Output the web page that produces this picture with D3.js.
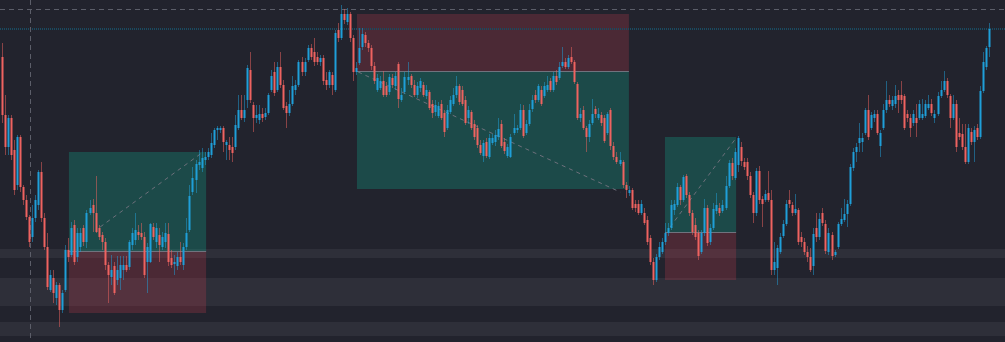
<!DOCTYPE html>
<html>
<head>
<meta charset="utf-8">
<script src="https://cdnjs.cloudflare.com/ajax/libs/d3/7.8.5/d3.min.js"></script>
<style>
  html, body { margin: 0; padding: 0; background: #22232d; overflow: hidden; }
</style>
</head>
<body>
<div id="chart"></div>
<script>
// OHLC, one entry per bar
var open = [
  293,235,203,232,200,165,213,163,150,133, 113,132,145,178,132,103,60,72,52,65,
  40,60,100,95,125,93,103,122,108,137, 145,137,122,115,108,85,73,84,70,72,
  80,85,83,105,110,118,117,113,88,88, 123,108,115,103,108,116,92,86,84,93,
  85,103,120,158,170,185,182,190,193,195, 205,220,220,222,205,205,203,203,222,240,
  232,250,280,245,232,230,236,233,237,260, 278,260,283,265,244,237,246,260,265,288,
  278,290,302,298,293,288,292,270,265,275, 260,320,312,336,328,336,312,278,287,303,
  315,307,302,284,260,262,269,264,258,272, 264,286,250,258,270,274,265,255,262,265,
  254,258,246,238,234,246,237,222,238,246, 255,264,260,250,232,238,226,222,205,194,
  208,193,207,208,213,226,208,194,193,217, 220,222,240,217,226,241,255,250,260,254,
  260,269,260,274,272,284,288,283,293,288, 266,232,240,222,213,227,241,232,235,232,
  217,240,204,193,186,188,165,157,160,146, 146,137,137,130,112,88,70,93,98,108,
  117,122,140,145,163,150,174,155,137,125, 117,98,117,142,108,122,139,142,139,142,
  164,187,172,185,203,188,188,174,155,137, 179,151,150,157,150,80,82,98,114,126,
  150,145,137,140,113,108,98,93,84,122, 113,137,126,98,115,95,103,126,130,136,
  146,182,198,207,208,217,240,222,232,236, 204,222,240,250,244,246,255,255,254,236,
  232,227,232,232,232,234,242,246,232,236, 254,260,269,254,232,246,217,216,203,188,
  218,208,222,213,259,283,303
];
var high = [
  307,255,235,235,210,215,215,165,155,135, 145,155,180,188,137,117,80,80,68,67,
  60,105,112,128,130,122,122,125,140,150, 151,174,125,118,112,88,95,88,94,94,
  94,94,110,122,137,125,127,118,107,127, 127,127,122,118,127,127,100,95,98,108,
  107,132,165,183,190,200,202,198,202,217, 222,224,224,224,210,213,213,235,255,255,
  255,285,298,248,245,245,242,242,257,280, 288,288,298,270,248,260,274,270,290,293,
  292,305,306,312,298,295,295,278,280,278, 320,327,345,341,342,338,315,288,322,322,
  318,310,305,288,276,274,279,268,276,276, 278,288,262,278,288,276,270,268,272,268,
  265,260,250,250,248,250,240,245,254,262, 274,266,264,254,244,240,230,225,210,210,
  212,216,216,220,232,230,212,206,216,236, 225,246,245,230,246,255,260,266,264,268,
  274,272,278,280,288,303,292,295,303,290, 268,242,244,224,230,251,244,242,238,235,
  238,242,208,198,198,190,168,164,162,150, 150,150,142,134,115,92,96,108,112,127,
  127,150,150,167,165,175,176,158,140,132, 120,120,151,145,126,147,157,147,150,174,
  190,192,202,214,208,192,192,178,158,182, 184,154,160,179,160,108,105,117,130,150,
  160,148,156,142,118,112,104,102,122,137, 137,142,130,122,118,100,128,142,151,150,
  186,202,207,227,217,242,255,238,240,240, 220,246,269,255,254,265,260,269,256,240,
  236,240,246,250,251,250,255,251,240,258, 269,279,272,256,255,250,232,226,226,226,
  222,224,226,264,298,304,327
];
var low = [
  227,195,195,190,155,160,158,145,130,103, 108,128,140,128,100,60,58,47,45,23,
  37,58,88,93,85,88,98,104,102,135, 118,117,110,100,80,47,65,55,65,60,
  70,78,80,100,105,110,110,72,57,87, 110,102,88,100,102,84,82,75,80,85,
  80,100,118,155,157,180,178,185,190,192, 202,210,217,198,190,190,188,200,220,230,
  228,242,247,218,227,226,228,230,235,258, 254,258,262,240,222,234,244,255,263,274,
  274,288,290,284,285,284,265,260,262,255, 258,308,310,326,325,308,269,275,285,300,
  303,298,280,266,258,260,253,253,255,262, 260,242,248,256,265,262,253,252,258,253,
  251,240,232,234,232,230,213,220,236,244, 252,245,244,225,226,220,210,202,195,188,
  192,191,205,204,210,202,196,192,192,215, 217,220,212,215,224,238,247,248,244,252,
  258,258,258,265,270,282,281,281,286,266, 230,228,220,198,208,225,232,230,224,207,
  215,200,190,186,184,162,152,154,140,138, 135,135,125,105,85,65,68,90,96,105,
  114,120,135,143,145,148,152,134,115,110, 90,96,114,104,105,120,136,134,137,140,
  162,170,170,178,184,180,170,152,127,134, 146,123,148,148,75,75,65,96,112,124,
  142,134,135,105,103,95,88,78,75,108, 110,124,96,95,90,93,101,124,128,123,
  144,179,188,198,198,215,210,220,228,215, 193,220,237,243,240,242,237,246,220,228,
  213,224,213,230,230,232,240,234,227,234, 252,258,252,222,230,198,210,200,186,186,
  205,188,210,211,257,280,293
];
var close = [
  235,203,232,195,160,213,163,150,133,108, 132,150,178,132,103,63,75,57,65,40,
  57,100,93,122,88,117,117,108,137,142, 137,118,113,108,85,75,80,57,80,85,
  85,80,108,117,120,115,113,75,103,126, 113,122,105,113,117,88,85,88,93,88,
  103,117,154,172,186,188,192,193,198,207, 220,222,222,208,208,200,197,225,240,232,
  240,282,250,232,235,236,232,237,255,274, 257,283,265,242,237,246,264,265,288,278,
  288,302,293,288,288,292,269,265,278,265, 317,312,336,330,336,312,278,282,302,316,
  307,302,284,269,272,269,255,255,273,265, 274,251,255,273,273,265,255,264,269,255,
  260,242,237,245,244,232,218,240,250,255, 264,248,246,227,240,222,213,205,197,207,
  194,212,212,215,221,204,199,203,213,222, 222,240,214,226,240,250,250,264,246,264,
  265,260,274,268,283,288,283,292,288,268, 232,236,222,213,226,236,236,236,227,209,
  236,204,193,188,190,165,160,160,142,142, 137,146,127,108,88,70,93,103,108,117,
  122,145,146,163,150,173,155,137,118,113, 94,117,142,107,122,141,145,137,145,164,
  187,174,198,212,189,183,174,155,137,179, 150,146,156,150,80,88,102,113,126,146,
  146,137,141,108,108,98,93,80,116,113, 131,127,99,117,94,98,126,131,136,146,
  183,198,203,212,212,240,213,235,236,217, 217,240,250,246,250,254,250,250,222,232,
  222,236,227,246,236,246,246,237,236,254, 260,269,255,232,246,203,213,203,188,222,
  208,220,213,259,288,302,321
];

// price zones (top, bottom)
var zones = [[101, 92], [72, 44], [28, 14]];

// position tools: bar range, entry / target / stop prices
var posFrom   = [22.2, 117.3, 219.0];
var posTo     = [67.5, 207.1, 242.5];
var posEntry  = [99, 279, 118];
var posTarget = [198, 161, 213];
var posStop   = [37, 336, 70];

// trade path inside each position: [bar, price] -> [bar, price]
var tradeLines = [
  [[32.5, 123], [66.5, 198]],
  [[117.7, 278], [204.2, 158]],
  [[220.7, 123], [242.5, 212]]
];

var dashedLevel = 341;     // grey dashed horizontal
var dottedLevel = 321;     // last price dotted line
var cursorBar = 9.35;      // grey dashed vertical

var width = 1005, height = 342;
var upColor = "#1f9fd9", downColor = "#ef6360";

var svg = d3.select("#chart").append("svg")
  .attr("width", width)
  .attr("height", height)
  .style("display", "block");

var x = d3.scaleLinear().domain([0, open.length - 1]).range([1.7, 989]);
var y = d3.scaleLinear().domain([8, 350]).range([height, 0]);

svg.append("rect").attr("width", width).attr("height", height).attr("fill", "#22232d");

// zones
svg.selectAll("rect.zone")
  .data(zones)
  .enter()
  .append("rect")
  .attr("class", "zone")
  .attr("x", 0)
  .attr("width", width)
  .attr("y", function (d) { return y(d[0]); })
  .attr("height", function (d) { return y(d[1]) - y(d[0]); })
  .attr("fill", "#2e2f39");

// position boxes
var pos = d3.range(posFrom.length).map(function (i) {
  return {from: posFrom[i], to: posTo[i], entry: posEntry[i], target: posTarget[i], stop: posStop[i]};
});
var boxes = svg.append("g");
pos.forEach(function (p) {
  var x0 = x(p.from), x1 = x(p.to);
  boxes.append("rect")
    .attr("x", x0).attr("width", x1 - x0)
    .attr("y", y(Math.max(p.entry, p.target)))
    .attr("height", Math.abs(y(p.entry) - y(p.target)))
    .attr("fill", "rgba(12,190,160,0.25)");
  boxes.append("rect")
    .attr("x", x0).attr("width", x1 - x0)
    .attr("y", y(Math.max(p.entry, p.stop)))
    .attr("height", Math.abs(y(p.entry) - y(p.stop)))
    .attr("fill", "rgba(200,58,78,0.25)");
  boxes.append("line")
    .attr("x1", x0).attr("x2", x1)
    .attr("y1", Math.round(y(p.entry)) + 0.5).attr("y2", Math.round(y(p.entry)) + 0.5)
    .attr("stroke", "#70737e").attr("stroke-width", 1);
});

svg.selectAll("line.trade")
  .data(tradeLines)
  .enter()
  .append("line")
  .attr("class", "trade")
  .attr("x1", function (d) { return x(d[0][0]); })
  .attr("y1", function (d) { return y(d[0][1]); })
  .attr("x2", function (d) { return x(d[1][0]); })
  .attr("y2", function (d) { return y(d[1][1]); })
  .attr("stroke", "#6d707b")
  .attr("stroke-width", 1)
  .attr("stroke-dasharray", "4,4");

// guide lines
svg.append("line")
  .attr("x1", 0).attr("x2", width)
  .attr("y1", Math.round(y(dashedLevel)) + 0.5).attr("y2", Math.round(y(dashedLevel)) + 0.5)
  .attr("stroke", "#5c5e69").attr("stroke-dasharray", "5,4");
svg.append("line")
  .attr("x1", 0).attr("x2", width)
  .attr("y1", Math.round(y(dottedLevel))).attr("y2", Math.round(y(dottedLevel)))
  .attr("stroke", "#1a4a60").attr("stroke-width", 2).attr("stroke-dasharray", "1,1");
svg.append("line")
  .attr("x1", Math.round(x(cursorBar)) + 0.5).attr("x2", Math.round(x(cursorBar)) + 0.5)
  .attr("y1", 0).attr("y2", height)
  .attr("stroke", "#5c5e69").attr("stroke-dasharray", "5,4");

// candles
var bars = d3.range(open.length).map(function (i) {
  return {i: i, o: open[i], h: high[i], l: low[i], c: close[i]};
});
var candle = svg.append("g").selectAll("g")
  .data(bars)
  .enter()
  .append("g");

candle.append("line")
  .attr("x1", function (d) { return Math.round(x(d.i)) + 0.5; })
  .attr("x2", function (d) { return Math.round(x(d.i)) + 0.5; })
  .attr("y1", function (d) { return y(d.h); })
  .attr("y2", function (d) { return y(d.l); })
  .attr("stroke", function (d) { return d.c >= d.o ? upColor : downColor; })
  .attr("stroke-opacity", 0.5)
  .attr("stroke-width", 1);

candle.append("rect")
  .attr("x", function (d) { return Math.round(x(d.i)) - 0.5; })
  .attr("width", 2)
  .attr("y", function (d) { return y(Math.max(d.o, d.c)); })
  .attr("height", function (d) { return Math.max(1, Math.abs(y(d.o) - y(d.c))); })
  .attr("fill", function (d) { return d.c >= d.o ? upColor : downColor; });
</script>
</body>
</html>
